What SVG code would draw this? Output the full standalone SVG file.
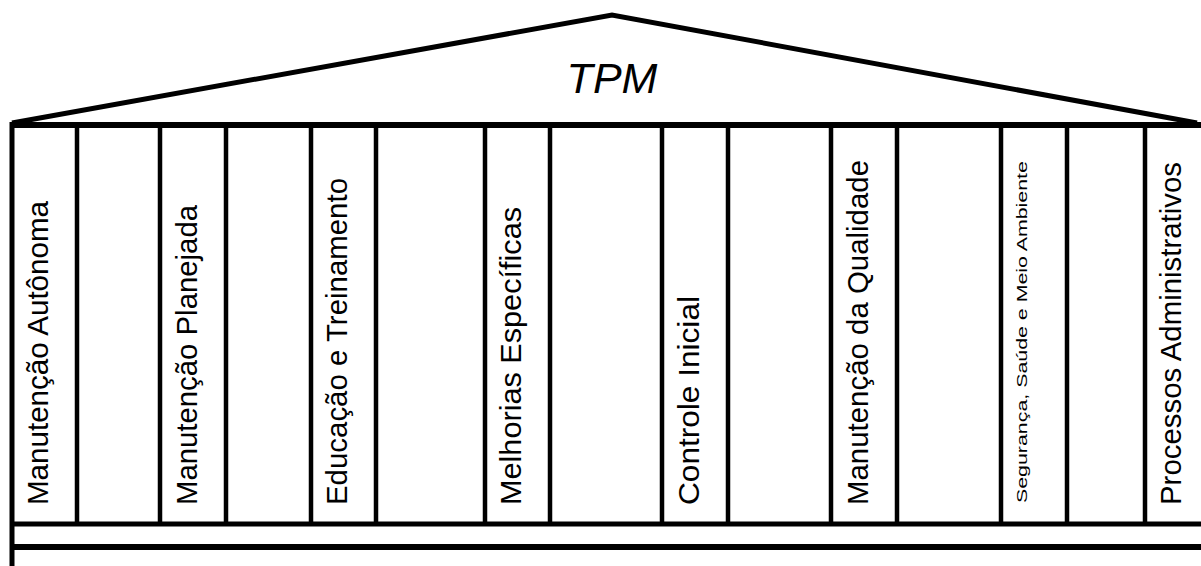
<svg xmlns="http://www.w3.org/2000/svg" width="1201" height="566" viewBox="0 0 1201 566">
<style>
.ln{stroke:#000;stroke-width:5;fill:none;stroke-linecap:butt}
.th{stroke-width:6}
.pv{stroke:#000;stroke-width:4.5;fill:none}
.t{font-family:"Liberation Sans",Arial,sans-serif;font-size:29px;fill:#000}
.s{font-family:"Liberation Sans",Arial,sans-serif;font-size:15.5px;fill:#000}
</style>
<rect width="1201" height="566" fill="#fff"/>
<g id="roof">
<polyline class="ln" points="12,123 612,15 1197,123" stroke-linejoin="miter"/>
<text x="612" y="93" text-anchor="middle" font-family="Liberation Sans, Arial, sans-serif" font-style="italic" font-size="43">TPM</text>
</g>
<g id="structure">
<line class="ln th" x1="10" y1="125" x2="1201" y2="125"/>
<line class="ln" x1="10" y1="524" x2="1201" y2="524"/>
<line class="ln th" x1="10" y1="547" x2="1201" y2="547"/>
<line class="ln" x1="12" y1="122" x2="12" y2="566"/>
</g>
<g id="p1"><line class="pv" x1="77" y1="125" x2="77" y2="524"/><text class="t" transform="translate(48,505) rotate(-90)" textLength="304" lengthAdjust="spacingAndGlyphs">Manutenção Autônoma</text></g>
<g id="p2"><line class="pv" x1="160" y1="125" x2="160" y2="524"/><line class="pv" x1="226" y1="125" x2="226" y2="524"/><text class="t" transform="translate(197,505) rotate(-90)" textLength="300" lengthAdjust="spacingAndGlyphs">Manutenção Planejada</text></g>
<g id="p3"><line class="pv" x1="311" y1="125" x2="311" y2="524"/><line class="pv" x1="376" y1="125" x2="376" y2="524"/><text class="t" transform="translate(347,505) rotate(-90)" textLength="327" lengthAdjust="spacingAndGlyphs">Educação e Treinamento</text></g>
<g id="p4"><line class="pv" x1="485" y1="125" x2="485" y2="524"/><line class="pv" x1="550" y1="125" x2="550" y2="524"/><text class="t" transform="translate(521,505) rotate(-90)" textLength="298" lengthAdjust="spacingAndGlyphs">Melhorias Específicas</text></g>
<g id="p5"><line class="pv" x1="662" y1="125" x2="662" y2="524"/><line class="pv" x1="728" y1="125" x2="728" y2="524"/><text class="t" transform="translate(699,505) rotate(-90)" textLength="209" lengthAdjust="spacingAndGlyphs">Controle Inicial</text></g>
<g id="p6"><line class="pv" x1="831" y1="125" x2="831" y2="524"/><line class="pv" x1="897" y1="125" x2="897" y2="524"/><text class="t" transform="translate(868,505) rotate(-90)" textLength="345" lengthAdjust="spacingAndGlyphs">Manutenção da Qualidade</text></g>
<g id="p7"><line class="pv" x1="1001" y1="125" x2="1001" y2="524"/><line class="pv" x1="1067" y1="125" x2="1067" y2="524"/><text class="s" transform="translate(1027,503) rotate(-90) scale(1.378,1)">Segurança, Saúde e Meio Ambiente</text></g>
<g id="p8"><line class="pv" x1="1145" y1="125" x2="1145" y2="524"/><text class="t" transform="translate(1181,505) rotate(-90)" textLength="343" lengthAdjust="spacingAndGlyphs">Processos Administrativos</text></g>
</svg>
